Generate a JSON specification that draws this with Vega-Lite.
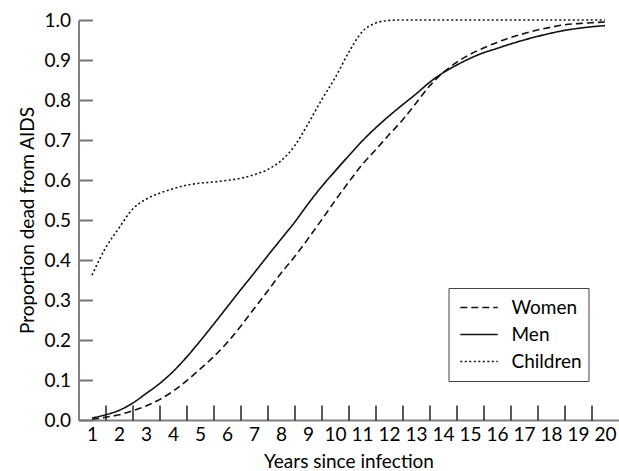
{
  "$schema": "https://vega.github.io/schema/vega-lite/v6.json",
  "width": 540,
  "height": 400,
  "autosize": {"type": "none"},
  "padding": {"left": 78.5, "top": 20, "right": 0, "bottom": 51},
  "background": "white",
  "config": {
    "view": {"stroke": null},
    "font": "Lato",
    "axis": {"labelFont": "Lato", "titleFont": "Lato", "labelColor": "#000", "titleColor": "#000", "grid": false}
  },
  "data": {"values": [
    {"t":1,"g":"Women","p":0.002},{"t":1.5,"g":"Women","p":0.007},{"t":2,"g":"Women","p":0.013},{"t":2.5,"g":"Women","p":0.023},{"t":3,"g":"Women","p":0.035},{"t":3.5,"g":"Women","p":0.051},{"t":4,"g":"Women","p":0.072},{"t":4.5,"g":"Women","p":0.098},{"t":5,"g":"Women","p":0.127},{"t":5.5,"g":"Women","p":0.158},{"t":6,"g":"Women","p":0.193},{"t":6.5,"g":"Women","p":0.234},{"t":7,"g":"Women","p":0.278},{"t":7.5,"g":"Women","p":0.322},{"t":8,"g":"Women","p":0.367},{"t":8.5,"g":"Women","p":0.408},{"t":9,"g":"Women","p":0.453},{"t":9.5,"g":"Women","p":0.5},{"t":10,"g":"Women","p":0.548},{"t":10.5,"g":"Women","p":0.594},{"t":11,"g":"Women","p":0.638},{"t":11.5,"g":"Women","p":0.675},{"t":12,"g":"Women","p":0.713},{"t":12.5,"g":"Women","p":0.75},{"t":13,"g":"Women","p":0.792},{"t":13.5,"g":"Women","p":0.835},{"t":14,"g":"Women","p":0.868},{"t":14.5,"g":"Women","p":0.894},{"t":15,"g":"Women","p":0.914},{"t":15.5,"g":"Women","p":0.93},{"t":16,"g":"Women","p":0.944},{"t":16.5,"g":"Women","p":0.956},{"t":17,"g":"Women","p":0.966},{"t":17.5,"g":"Women","p":0.975},{"t":18,"g":"Women","p":0.982},{"t":18.5,"g":"Women","p":0.988},{"t":19,"g":"Women","p":0.991},{"t":19.5,"g":"Women","p":0.993},{"t":20,"g":"Women","p":0.995},
    {"t":1,"g":"Men","p":0.005},{"t":1.5,"g":"Men","p":0.013},{"t":2,"g":"Men","p":0.024},{"t":2.5,"g":"Men","p":0.042},{"t":3,"g":"Men","p":0.066},{"t":3.5,"g":"Men","p":0.091},{"t":4,"g":"Men","p":0.121},{"t":4.5,"g":"Men","p":0.157},{"t":5,"g":"Men","p":0.197},{"t":5.5,"g":"Men","p":0.239},{"t":6,"g":"Men","p":0.282},{"t":6.5,"g":"Men","p":0.325},{"t":7,"g":"Men","p":0.367},{"t":7.5,"g":"Men","p":0.41},{"t":8,"g":"Men","p":0.452},{"t":8.5,"g":"Men","p":0.494},{"t":9,"g":"Men","p":0.54},{"t":9.5,"g":"Men","p":0.583},{"t":10,"g":"Men","p":0.622},{"t":10.5,"g":"Men","p":0.66},{"t":11,"g":"Men","p":0.697},{"t":11.5,"g":"Men","p":0.73},{"t":12,"g":"Men","p":0.76},{"t":12.5,"g":"Men","p":0.788},{"t":13,"g":"Men","p":0.815},{"t":13.5,"g":"Men","p":0.844},{"t":14,"g":"Men","p":0.868},{"t":14.5,"g":"Men","p":0.887},{"t":15,"g":"Men","p":0.904},{"t":15.5,"g":"Men","p":0.918},{"t":16,"g":"Men","p":0.929},{"t":16.5,"g":"Men","p":0.94},{"t":17,"g":"Men","p":0.95},{"t":17.5,"g":"Men","p":0.959},{"t":18,"g":"Men","p":0.967},{"t":18.5,"g":"Men","p":0.974},{"t":19,"g":"Men","p":0.979},{"t":19.5,"g":"Men","p":0.983},{"t":20,"g":"Men","p":0.986},
    {"t":1,"g":"Children","p":0.362},{"t":1.5,"g":"Children","p":0.43},{"t":2,"g":"Children","p":0.48},{"t":2.5,"g":"Children","p":0.527},{"t":3,"g":"Children","p":0.552},{"t":3.5,"g":"Children","p":0.567},{"t":4,"g":"Children","p":0.578},{"t":4.5,"g":"Children","p":0.587},{"t":5,"g":"Children","p":0.592},{"t":5.5,"g":"Children","p":0.595},{"t":6,"g":"Children","p":0.599},{"t":6.5,"g":"Children","p":0.604},{"t":7,"g":"Children","p":0.613},{"t":7.5,"g":"Children","p":0.626},{"t":8,"g":"Children","p":0.648},{"t":8.5,"g":"Children","p":0.685},{"t":9,"g":"Children","p":0.74},{"t":9.5,"g":"Children","p":0.8},{"t":10,"g":"Children","p":0.855},{"t":10.5,"g":"Children","p":0.918},{"t":11,"g":"Children","p":0.97},{"t":11.5,"g":"Children","p":0.992},{"t":12,"g":"Children","p":0.999},{"t":12.5,"g":"Children","p":1.0},{"t":13,"g":"Children","p":1.0},{"t":14,"g":"Children","p":1.0},{"t":15,"g":"Children","p":1.0},{"t":16,"g":"Children","p":1.0},{"t":17,"g":"Children","p":1.0},{"t":18,"g":"Children","p":1.0},{"t":19,"g":"Children","p":1.0},{"t":20,"g":"Children","p":1.0}
  ]},
  "layer": [
    {
      "mark": {"type": "line", "color": "#111", "strokeWidth": 1.6, "interpolate": "monotone"},
      "encoding": {
        "x": {"field": "t", "type": "quantitative", "scale": {"domain": [0.5, 20.5], "nice": false, "zero": false},
          "axis": {"orient": "bottom", "values": [1,2,3,4,5,6,7,8,9,10,11,12,13,14,15,16,17,18,19,20], "ticks": false, "title": "Years since infection",
            "labelFontSize": 19, "titleFontSize": 19, "titleFontWeight": "normal", "labelPadding": 5, "titlePadding": 8,
            "domainColor": "#808080", "domainWidth": 2, "labelFlush": false}},
        "y": {"field": "p", "type": "quantitative", "scale": {"domain": [0, 1], "nice": false},
          "axis": {"values": [0,0.1,0.2,0.3,0.4,0.5,0.6,0.7,0.8,0.9,1.0], "format": ".1f", "title": "Proportion dead from AIDS",
            "labelFontSize": 19, "titleFontSize": 19, "titleFontWeight": "normal", "labelPadding": 22, "titlePadding": 6,
            "ticks": true, "tickSize": -14, "tickColor": "#777777", "tickWidth": 2, "domainColor": "#808080", "domainWidth": 2, "labelFlush": false}},
        "strokeDash": {"field": "g", "type": "nominal",
          "scale": {"domain": ["Women", "Men", "Children"], "range": [[7, 4], [1, 0], [2, 2.5]]},
          "legend": {"title": null, "orient": "none", "legendX": 370, "legendY": 268, "labelFontSize": 19, "labelFont": "Lato",
            "labelColor": "#000", "symbolType": "stroke", "symbolSize": 1400, "symbolStrokeColor": "#111", "symbolStrokeWidth": 1.5,
            "strokeColor": "#444", "fillColor": "white", "padding": 6, "symbolOffset": 5, "clipHeight": 27, "rowPadding": 0, "labelOffset": 13}}
      }
    },
    {
      "mark": {"type": "point", "opacity": 0},
      "encoding": {
        "x": {"field": "t", "type": "quantitative",
          "axis": {"orient": "bottom", "values": [1.5,2.5,3.5,4.5,5.5,6.5,7.5,8.5,9.5,10.5,11.5,12.5,13.5,14.5,15.5,16.5,17.5,18.5,19.5], "labels": false, "title": null,
            "domain": false, "tickSize": -15, "tickColor": "#222", "tickWidth": 1.5}}
      }
    }
  ],
  "resolve": {"axis": {"x": "independent"}}
}
